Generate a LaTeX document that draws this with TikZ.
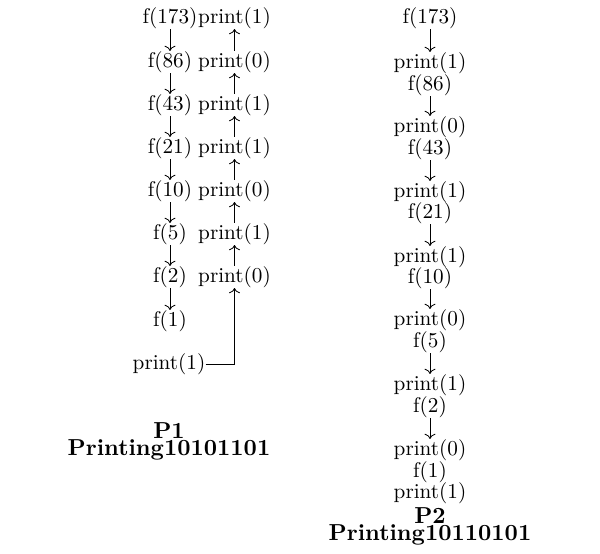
\documentclass[tikz,border=0pt]{standalone}
\usetikzlibrary{arrows.meta}
\begin{document}
\begin{tikzpicture}[x=0.4717pt,y=-0.4717pt,
  lbl/.style={inner sep=0pt,font=\normalsize},
  ttl/.style={inner sep=0pt,anchor=north,align=center,font=\fontsize{10.9}{12}\selectfont\bfseries},
  arr/.style={->}]
\useasboundingbox (0,0) rectangle (600,554);
% P1 left column
\node[lbl] (a1) at (170,18) {f(173)};
\node[lbl] (a2) at (170,62) {f(86)};
\node[lbl] (a3) at (170,105) {f(43)};
\node[lbl] (a4) at (170,148) {f(21)};
\node[lbl] (a5) at (170,191) {f(10)};
\node[lbl] (a6) at (170,234) {f(5)};
\node[lbl] (a7) at (170,277) {f(2)};
\node[lbl] (a8) at (170,321) {f(1)};
\node[lbl] (pb) at (169,364) {print(1)};
% P1 right column
\node[lbl] (b1) at (234.5,18) {print(1)};
\node[lbl] (b2) at (234.5,62) {print(0)};
\node[lbl] (b3) at (234.5,105) {print(1)};
\node[lbl] (b4) at (234.5,148) {print(1)};
\node[lbl] (b5) at (234.5,191) {print(0)};
\node[lbl] (b6) at (234.5,234) {print(1)};
\node[lbl] (b7) at (234.5,277) {print(0)};
\foreach \i/\j in {1/2,2/3,3/4,4/5,5/6,6/7,7/8}{
  \draw[arr] (a\i) -- (a\j);
}
\foreach \i/\j in {1/2,2/3,3/4,4/5,5/6,6/7}{
  \draw[arr] (b\j) -- (b\i);
}
\draw[arr] (pb.east) -| (b7.south);
\node[ttl] (t1) at (169,422.5) {P1\\[-4.3pt]Printing10101101};
% P2
\node[lbl] (c0) at (430,18) {f(173)};
\node[lbl] (p1) at (430,63) {print(1)};
\node[lbl] (c1) at (430,85) {f(86)};
\node[lbl] (p2) at (430,127) {print(0)};
\node[lbl] (c2) at (430,149) {f(43)};
\node[lbl] (p3) at (430,192) {print(1)};
\node[lbl] (c3) at (430,213) {f(21)};
\node[lbl] (p4) at (430,257) {print(1)};
\node[lbl] (c4) at (430,278) {f(10)};
\node[lbl] (p5) at (430,320) {print(0)};
\node[lbl] (c5) at (430,342) {f(5)};
\node[lbl] (p6) at (430,385) {print(1)};
\node[lbl] (c6) at (430,407) {f(2)};
\node[lbl] (p7) at (430,450) {print(0)};
\node[lbl] (c7) at (430,472) {f(1)};
\node[lbl] (p8) at (430,493) {print(1)};
\foreach \i/\j in {0/1,1/2,2/3,3/4,4/5,5/6,6/7}{
  \draw[arr] (c\i) -- (p\j);
}
\node[ttl] (t2) at (430,507.5) {P2\\[-4.3pt]Printing10110101};
\end{tikzpicture}
\end{document}
